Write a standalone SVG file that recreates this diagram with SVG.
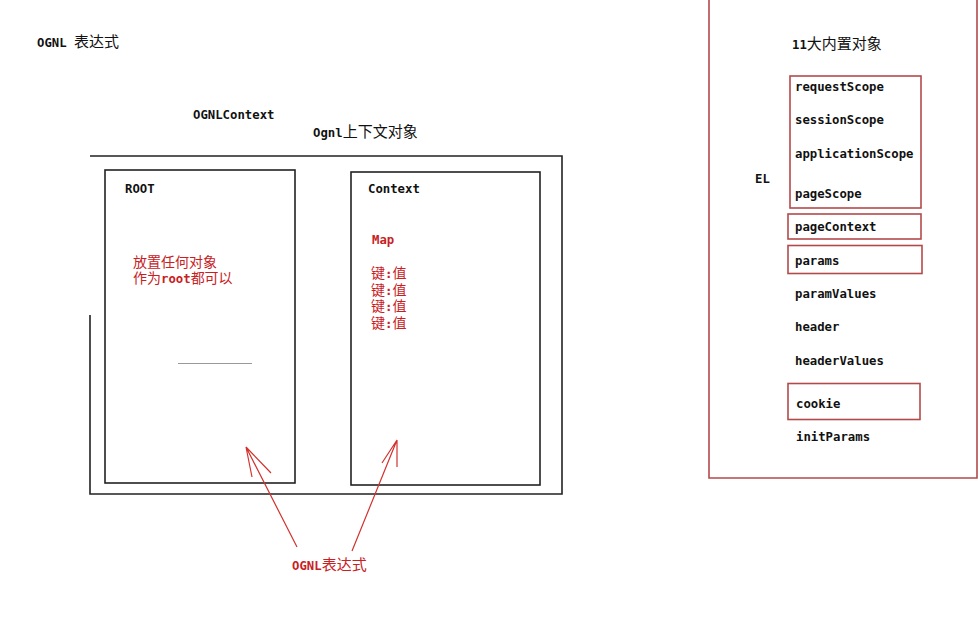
<svg xmlns="http://www.w3.org/2000/svg" width="979" height="620" viewBox="0 0 979 620">
<style>
.m{font-family:"DejaVu Sans Mono","Liberation Mono",monospace;font-weight:bold;font-size:12.3px;fill:#111}
.c{font-family:"Noto Sans CJK SC","DejaVu Sans",sans-serif;font-weight:normal;font-size:15px;fill:#111}
.k{font-size:14px}
.r{fill:#c8201e}
.box{fill:none;stroke:#222;stroke-width:1.6}
.rb{fill:none;stroke:#b34a4a;stroke-width:1.6}
.arr{fill:none;stroke:#d2322e;stroke-width:1.2}
</style>
<rect width="979" height="620" fill="#fff"/>
<g id="title">
<text x="37" y="47" class="m">OGNL <tspan class="c">表达式</tspan></text>
</g>
<g id="ognlcontext">
<text x="193" y="119" class="m">OGNLContext</text>
<text x="313" y="137" class="m">Ognl<tspan class="c">上下文对象</tspan></text>
<polyline class="box" points="90,315 90,494 562,494 562,156 90,156"/>
</g>
<g id="root">
<rect class="box" x="105" y="170" width="190" height="313"/>
<text x="125" y="193" class="m">ROOT</text>
<text x="133" y="267" class="c k r">放置任何对象</text>
<text x="133" y="283" class="c k r">作为<tspan class="m r">root</tspan>都可以</text>
<line x1="178" y1="363.5" x2="252" y2="363.5" stroke="#999" stroke-width="1"/>
</g>
<g id="context">
<rect class="box" x="351" y="172" width="189" height="313"/>
<text x="368" y="193" class="m">Context</text>
<text x="372" y="244" class="m r">Map</text>
<text x="371" y="278" class="c k r">键<tspan class="m r">:</tspan>值</text>
<text x="371" y="294.5" class="c k r">键<tspan class="m r">:</tspan>值</text>
<text x="371" y="311" class="c k r">键<tspan class="m r">:</tspan>值</text>
<text x="371" y="327.5" class="c k r">键<tspan class="m r">:</tspan>值</text>
</g>
<g id="connectors">
<path class="arr" d="M297,547 L246,447 M246,447 L271,473 M246,447 L252,477"/>
<path class="arr" d="M352,551 L397,440 M397,440 L382,463 M397,440 L397,467"/>
</g>
<g id="ognl-expr">
<text x="292" y="570" class="m r">OGNL<tspan class="c r">表达式</tspan></text>
</g>
<g id="el-panel">
<polyline class="rb" points="709,0 709,478 977,478 977,0"/>
<text x="792" y="49" class="m">11<tspan class="c">大内置对象</tspan></text>
<text x="755" y="183" class="m">EL</text>
</g>
<g id="scopes">
<rect class="rb" x="790" y="76" width="131" height="132"/>
<text x="795" y="91" class="m">requestScope</text>
<text x="795" y="124" class="m">sessionScope</text>
<text x="795" y="158" class="m">applicationScope</text>
<text x="795" y="198" class="m">pageScope</text>
</g>
<g id="pageContext">
<rect class="rb" x="788" y="214" width="133" height="25"/>
<text x="795" y="231" class="m">pageContext</text>
</g>
<g id="params">
<rect class="rb" x="788" y="245.5" width="134" height="28"/>
<text x="795" y="265" class="m">params</text>
</g>
<g id="paramValues"><text x="795" y="298" class="m">paramValues</text></g>
<g id="header"><text x="795" y="331" class="m">header</text></g>
<g id="headerValues"><text x="795" y="365" class="m">headerValues</text></g>
<g id="cookie">
<rect class="rb" x="788" y="383.5" width="132" height="36"/>
<text x="796" y="408" class="m">cookie</text>
</g>
<g id="initParams"><text x="796" y="441" class="m">initParams</text></g>
</svg>
